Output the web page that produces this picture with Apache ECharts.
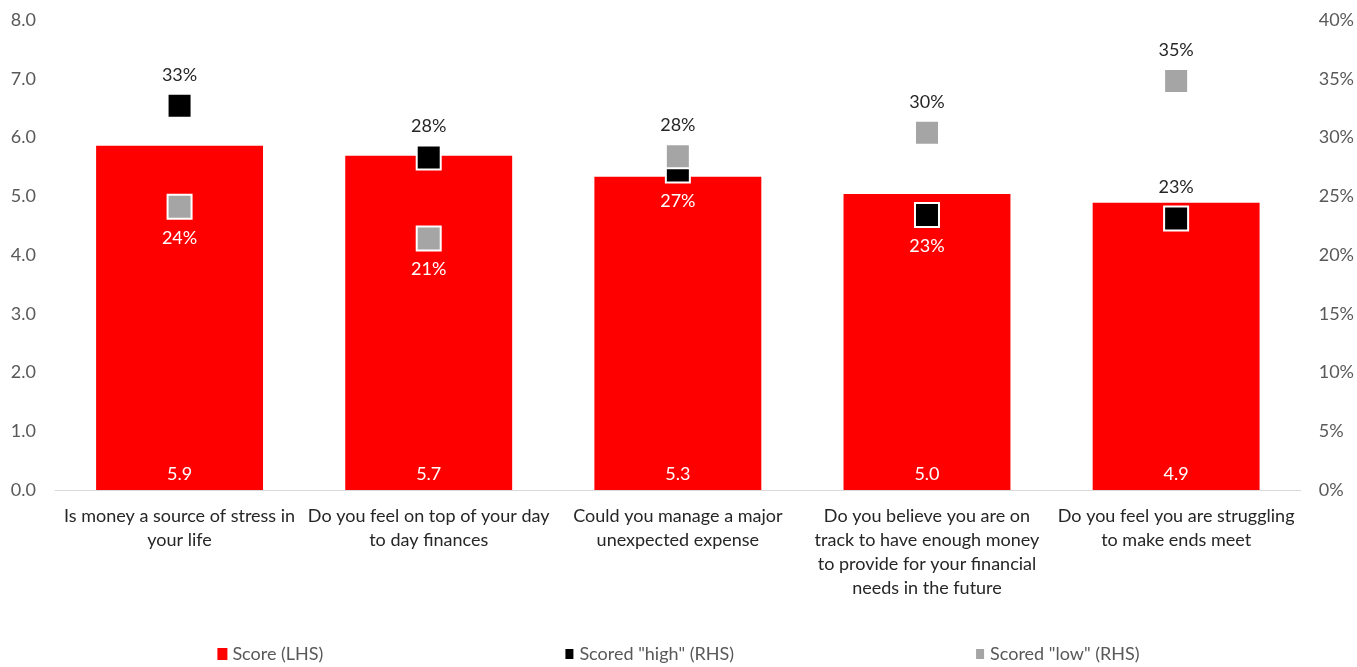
<!DOCTYPE html>
<html>
<head>
<meta charset="utf-8">
<script src="https://cdn.jsdelivr.net/npm/echarts@6/dist/echarts.min.js"></script>
<style>
  html, body { margin: 0; padding: 0; background: #fff; }
  #main { width: 1357px; height: 667px; }
</style>
</head>
<body>
<div id="main"></div>
<script>
var categories = [
    'Is money a source of stress in\nyour life',
    'Do you feel on top of your day\nto day finances',
    'Could you manage a major\nunexpected expense',
    'Do you believe you are on\ntrack to have enough money\nto provide for your financial\nneeds in the future',
    'Do you feel you are struggling\nto make ends meet'
];
var scoreValues = [5.86, 5.69, 5.33, 5.04, 4.89];
var highValues = [32.7, 28.3, 27.2, 23.4, 23.1];
var lowValues = [24.1, 21.4, 28.4, 30.4, 34.8];
// label above (true) or below the marker
var highLabelTop = [true, true, false, false, true];
var lowLabelTop = [false, false, true, true, true];
var leftTicks = { min: 0, max: 8, interval: 1 };
var rightTicks = { min: 0, max: 40, interval: 5 };

var FONT = 'Lato';
var FS = 18;
var RED = '#ff0000', BLACK = '#000000', GRAY = '#a5a5a5';

var myChart = echarts.init(document.getElementById('main'));

function markerData(values, tops) {
    return values.map(function (v, i) {
        return {
            value: v,
            label: {
                position: tops[i] ? 'top' : 'bottom',
                color: tops[i] ? '#262626' : '#ffffff',
                distance: 9
            }
        };
    });
}

var option = {
    animation: false,
    textStyle: { fontFamily: FONT },
    grid: { left: 55, right: 55, top: 20, bottom: 177 },
    legend: {
        top: 640,
        left: 'center',
        itemGap: 240,
        itemWidth: 10,
        itemHeight: 12,
        icon: 'rect',
        textStyle: { fontFamily: FONT, fontSize: FS, color: '#595959' },
        data: ['Score (LHS)', 'Scored "high" (RHS)', 'Scored "low" (RHS)']
    },
    xAxis: {
        type: 'category',
        data: categories,
        axisLine: { lineStyle: { color: '#d9d9d9' } },
        axisTick: { show: false },
        axisLabel: {
            interval: 0,
            margin: 14,
            fontFamily: FONT,
            fontSize: FS,
            lineHeight: 24,
            color: '#262626'
        }
    },
    yAxis: [
        {
            type: 'value',
            min: leftTicks.min,
            max: leftTicks.max,
            interval: leftTicks.interval,
            splitLine: { show: false },
            axisLine: { show: false },
            axisLabel: {
                margin: 19,
                fontFamily: FONT,
                fontSize: FS,
                color: '#595959',
                formatter: function (v) { return v.toFixed(1); }
            }
        },
        {
            type: 'value',
            min: rightTicks.min,
            max: rightTicks.max,
            interval: rightTicks.interval,
            splitLine: { show: false },
            axisLine: { show: false },
            axisLabel: {
                margin: 18,
                fontFamily: FONT,
                fontSize: FS,
                color: '#595959',
                formatter: '{value}%'
            }
        }
    ],
    series: [
        {
            name: 'Score (LHS)',
            type: 'bar',
            data: scoreValues,
            barWidth: '67%',
            itemStyle: { color: RED },
            label: {
                show: true,
                position: 'insideBottom',
                distance: 7,
                color: '#ffffff',
                fontFamily: FONT,
                fontSize: FS,
                formatter: function (p) { return p.value.toFixed(1); }
            }
        },
        {
            name: 'Scored "high" (RHS)',
            type: 'scatter',
            yAxisIndex: 1,
            symbol: 'rect',
            symbolSize: 24,
            itemStyle: { color: BLACK, borderColor: '#ffffff', borderWidth: 2, opacity: 1 },
            data: markerData(highValues, highLabelTop),
            label: {
                show: true,
                fontFamily: FONT,
                fontSize: FS,
                formatter: function (p) { return Math.round(p.value) + '%'; }
            }
        },
        {
            name: 'Scored "low" (RHS)',
            type: 'scatter',
            yAxisIndex: 1,
            symbol: 'rect',
            symbolSize: 24,
            itemStyle: { color: GRAY, borderColor: '#ffffff', borderWidth: 2, opacity: 1 },
            data: markerData(lowValues, lowLabelTop),
            label: {
                show: true,
                fontFamily: FONT,
                fontSize: FS,
                formatter: function (p) { return Math.round(p.value) + '%'; }
            }
        }
    ]
};

myChart.setOption(option);
</script>
</body>
</html>
